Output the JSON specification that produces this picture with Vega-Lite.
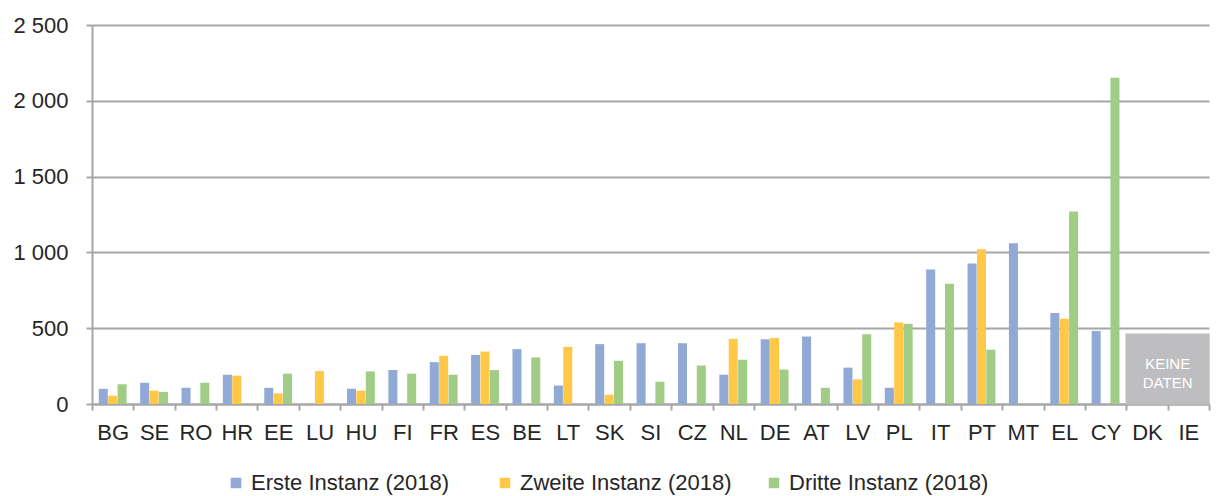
{
  "$schema": "https://vega.github.io/schema/vega-lite/v6.json",
  "width": 1117,
  "height": 379,
  "autosize": {"type": "none"},
  "padding": {"left": 92, "top": 25, "right": 15, "bottom": 92},
  "background": "white",
  "config": {"view": {"stroke": null}, "font": "Liberation Sans"},
  "datasets": {
    "bars": [
      {"country": "BG", "series": "Erste Instanz (2018)", "value": 100},
      {"country": "BG", "series": "Zweite Instanz (2018)", "value": 55},
      {"country": "BG", "series": "Dritte Instanz (2018)", "value": 130},
      {"country": "SE", "series": "Erste Instanz (2018)", "value": 140},
      {"country": "SE", "series": "Zweite Instanz (2018)", "value": 88},
      {"country": "SE", "series": "Dritte Instanz (2018)", "value": 80},
      {"country": "RO", "series": "Erste Instanz (2018)", "value": 107},
      {"country": "RO", "series": "Dritte Instanz (2018)", "value": 140},
      {"country": "HR", "series": "Erste Instanz (2018)", "value": 193},
      {"country": "HR", "series": "Zweite Instanz (2018)", "value": 187},
      {"country": "EE", "series": "Erste Instanz (2018)", "value": 107},
      {"country": "EE", "series": "Zweite Instanz (2018)", "value": 70},
      {"country": "EE", "series": "Dritte Instanz (2018)", "value": 200},
      {"country": "LU", "series": "Zweite Instanz (2018)", "value": 217},
      {"country": "HU", "series": "Erste Instanz (2018)", "value": 100},
      {"country": "HU", "series": "Zweite Instanz (2018)", "value": 88},
      {"country": "HU", "series": "Dritte Instanz (2018)", "value": 215},
      {"country": "FI", "series": "Erste Instanz (2018)", "value": 224},
      {"country": "FI", "series": "Dritte Instanz (2018)", "value": 200},
      {"country": "FR", "series": "Erste Instanz (2018)", "value": 276},
      {"country": "FR", "series": "Zweite Instanz (2018)", "value": 318},
      {"country": "FR", "series": "Dritte Instanz (2018)", "value": 193},
      {"country": "ES", "series": "Erste Instanz (2018)", "value": 324},
      {"country": "ES", "series": "Zweite Instanz (2018)", "value": 346},
      {"country": "ES", "series": "Dritte Instanz (2018)", "value": 224},
      {"country": "BE", "series": "Erste Instanz (2018)", "value": 362},
      {"country": "BE", "series": "Dritte Instanz (2018)", "value": 307},
      {"country": "LT", "series": "Erste Instanz (2018)", "value": 122},
      {"country": "LT", "series": "Zweite Instanz (2018)", "value": 377},
      {"country": "SK", "series": "Erste Instanz (2018)", "value": 395},
      {"country": "SK", "series": "Zweite Instanz (2018)", "value": 61},
      {"country": "SK", "series": "Dritte Instanz (2018)", "value": 285},
      {"country": "SI", "series": "Erste Instanz (2018)", "value": 401},
      {"country": "SI", "series": "Dritte Instanz (2018)", "value": 147},
      {"country": "CZ", "series": "Erste Instanz (2018)", "value": 401},
      {"country": "CZ", "series": "Dritte Instanz (2018)", "value": 254},
      {"country": "NL", "series": "Erste Instanz (2018)", "value": 193},
      {"country": "NL", "series": "Zweite Instanz (2018)", "value": 430},
      {"country": "NL", "series": "Dritte Instanz (2018)", "value": 292},
      {"country": "DE", "series": "Erste Instanz (2018)", "value": 427},
      {"country": "DE", "series": "Zweite Instanz (2018)", "value": 435},
      {"country": "DE", "series": "Dritte Instanz (2018)", "value": 227},
      {"country": "AT", "series": "Erste Instanz (2018)", "value": 445},
      {"country": "AT", "series": "Dritte Instanz (2018)", "value": 107},
      {"country": "LV", "series": "Erste Instanz (2018)", "value": 240},
      {"country": "LV", "series": "Zweite Instanz (2018)", "value": 162},
      {"country": "LV", "series": "Dritte Instanz (2018)", "value": 460},
      {"country": "PL", "series": "Erste Instanz (2018)", "value": 107},
      {"country": "PL", "series": "Zweite Instanz (2018)", "value": 538},
      {"country": "PL", "series": "Dritte Instanz (2018)", "value": 529},
      {"country": "IT", "series": "Erste Instanz (2018)", "value": 887},
      {"country": "IT", "series": "Dritte Instanz (2018)", "value": 793},
      {"country": "PT", "series": "Erste Instanz (2018)", "value": 927},
      {"country": "PT", "series": "Zweite Instanz (2018)", "value": 1020},
      {"country": "PT", "series": "Dritte Instanz (2018)", "value": 358},
      {"country": "MT", "series": "Erste Instanz (2018)", "value": 1060},
      {"country": "EL", "series": "Erste Instanz (2018)", "value": 600},
      {"country": "EL", "series": "Zweite Instanz (2018)", "value": 562},
      {"country": "EL", "series": "Dritte Instanz (2018)", "value": 1269},
      {"country": "CY", "series": "Erste Instanz (2018)", "value": 482},
      {"country": "CY", "series": "Dritte Instanz (2018)", "value": 2152}
    ],
    "nodata": [{"country": "DK"}, {"country": "IE"}],
    "nodatalabel": [{"country": "DK", "label": "KEINE\nDATEN"}]
  },
  "layer": [
    {
      "data": {"name": "bars"},
      "mark": {"type": "bar"},
      "encoding": {
        "x": {
          "field": "country",
          "type": "nominal",
          "sort": null,
          "scale": {
            "domain": ["BG","SE","RO","HR","EE","LU","HU","FI","FR","ES","BE","LT","SK","SI","CZ","NL","DE","AT","LV","PL","IT","PT","MT","EL","CY","DK","IE"],
            "paddingInner": 0,
            "paddingOuter": 0
          },
          "axis": {
            "title": null,
            "labelAngle": 0,
            "labelFontSize": 22,
            "labelColor": "#262626",
            "labelPadding": 12,
            "domainColor": "#A6A6A6",
            "domainWidth": 2,
            "tickColor": "#A6A6A6",
            "tickWidth": 2,
            "tickSize": 6,
            "tickBand": "extent"
          }
        },
        "xOffset": {
          "field": "series",
          "type": "nominal",
          "scale": {
            "domain": ["Erste Instanz (2018)", "Zweite Instanz (2018)", "Dritte Instanz (2018)"],
            "paddingOuter": 0.72,
            "paddingInner": 0.04
          }
        },
        "y": {
          "field": "value",
          "type": "quantitative",
          "scale": {"domain": [0, 2500], "nice": false},
          "axis": {
            "title": null,
            "values": [0, 500, 1000, 1500, 2000, 2500],
            "labelExpr": "replace(format(datum.value, ','), ',', ' ')",
            "labelFontSize": 22,
            "labelColor": "#262626",
            "labelPadding": 18,
            "grid": true,
            "gridColor": "#A6A6A6",
            "gridWidth": 2,
            "domainColor": "#A6A6A6",
            "domainWidth": 2,
            "tickColor": "#A6A6A6",
            "tickWidth": 2,
            "tickSize": 6
          }
        },
        "color": {
          "field": "series",
          "type": "nominal",
          "scale": {
            "domain": ["Erste Instanz (2018)", "Zweite Instanz (2018)", "Dritte Instanz (2018)"],
            "range": ["#91A9D5", "#FFC846", "#A1CC85"]
          },
          "legend": {
            "title": null,
            "orient": "none",
            "direction": "horizontal",
            "legendX": 133,
            "legendY": 447,
            "padding": 0,
            "symbolType": "square",
            "symbolSize": 110,
            "symbolStrokeWidth": 0,
            "labelFontSize": 22,
            "labelLimit": 400,
            "labelColor": "#262626",
            "labelOffset": 4,
            "gridAlign": "all",
            "columnPadding": 31
          }
        }
      }
    },
    {
      "data": {"name": "nodata"},
      "mark": {"type": "bar", "color": "#BEBEC0", "stroke": "#BEBEC0", "strokeWidth": 1.5},
      "encoding": {
        "x": {"field": "country", "type": "nominal"},
        "y": {"datum": 460, "type": "quantitative"}
      }
    },
    {
      "data": {"name": "nodatalabel"},
      "mark": {
        "type": "text",
        "color": "white",
        "fontSize": 15,
        "font": "Liberation Sans",
        "letterSpacing": -1,
        "lineBreak": "\n",
        "lineHeight": 19,
        "align": "center",
        "baseline": "middle"
      },
      "encoding": {
        "x": {"field": "country", "type": "nominal", "bandPosition": 1},
        "y": {"datum": 267, "type": "quantitative"},
        "text": {"field": "label"}
      }
    }
  ]
}
